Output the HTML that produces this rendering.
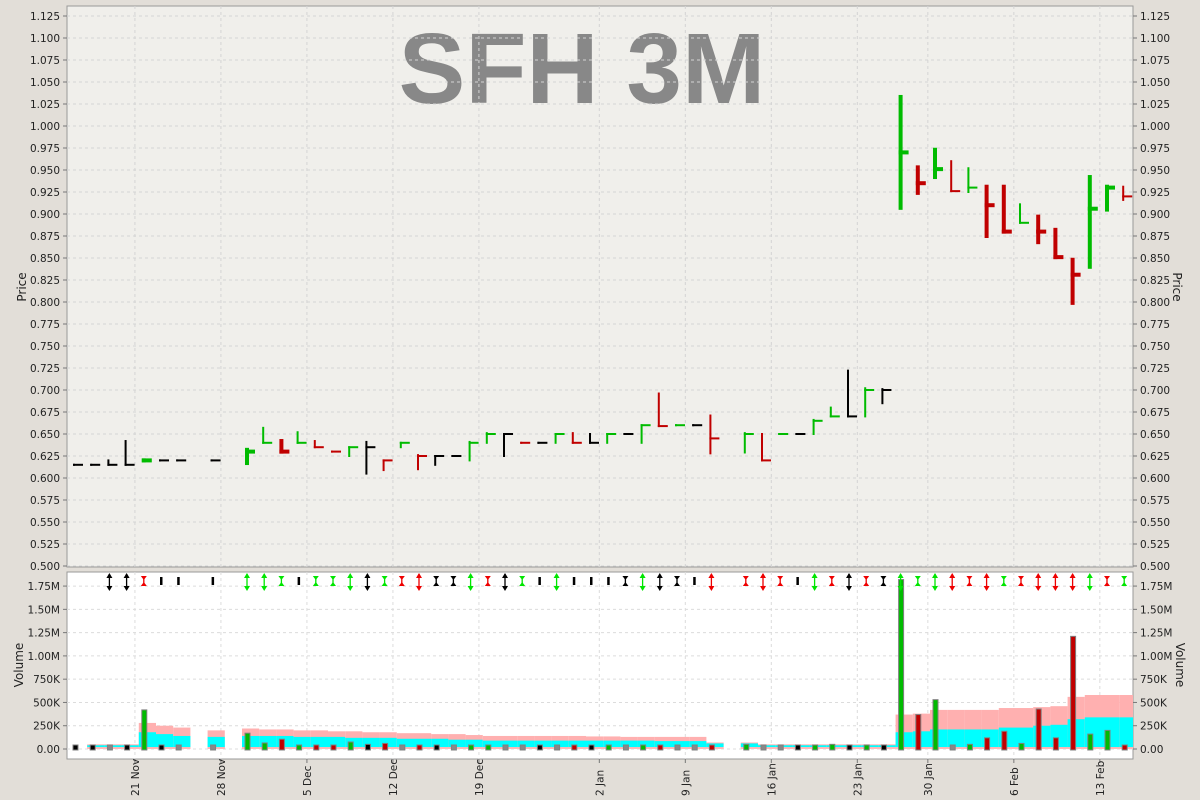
<!DOCTYPE html>
<html><head><meta charset="utf-8"><style>
html,body{margin:0;padding:0;background:#e2ded8;}
svg{display:block;font-family:"DejaVu Sans","Liberation Sans",sans-serif;}
</style></head><body>
<svg id="chart" width="1200" height="800" viewBox="0 0 1200 800">
<defs><clipPath id="volclip"><rect x="67" y="572" width="1066" height="187"/></clipPath></defs>
<rect x="0" y="0" width="1200" height="800" fill="#e2ded8"/>
<rect x="67" y="6" width="1066" height="561" fill="#f0efeb" stroke="#999"/>
<rect x="67" y="572" width="1066" height="187" fill="#ffffff" stroke="#999"/>
<text x="582" y="103" text-anchor="middle" font-family="Liberation Sans, sans-serif" font-weight="bold" font-size="100" fill="#888">SFH 3M</text>
<text transform="translate(26,287) rotate(-90)" text-anchor="middle" font-size="12" fill="#222">Price</text>
<text transform="translate(1173,287) rotate(90)" text-anchor="middle" font-size="12" fill="#222">Price</text>
<text transform="translate(23,665) rotate(-90)" text-anchor="middle" font-size="12" fill="#222">Volume</text>
<text transform="translate(1176,665) rotate(90)" text-anchor="middle" font-size="12" fill="#222">Volume</text>
<g id="grid"></g><g id="vol" clip-path="url(#volclip)"></g><g id="price"></g><g id="arrows"></g><g id="axes"></g>
</svg>
<script>
const slots=[0,1,2,3,4,5,6,8,10,11,12,13,14,15,16,17,18,19,20,21,22,23,24,25,26,27,28,29,30,31,32,33,34,35,36,37,39,40,41,42,43,44,45,46,47,48,49,50,51,52,53,54,55,56,57,58,59,60,61];
const highs=[.615,.615,.620,.642,.620,.620,.620,.620,.632,.657,.642,.652,.642,.630,.635,.641,.620,.640,.626,.625,.625,.641,.651,.650,.640,.640,.650,.651,.650,.650,.650,.660,.696,.660,.660,.671,.651,.650,.650,.650,.666,.680,.722,.702,.701,1.033,.953,.973,.960,.952,.931,.931,.911,.897,.882,.848,.942,.931,.931];
const lows=[.615,.615,.615,.615,.620,.620,.620,.620,.617,.640,.630,.640,.635,.630,.625,.605,.609,.635,.610,.615,.625,.620,.640,.625,.640,.640,.640,.640,.640,.640,.650,.640,.659,.660,.660,.628,.629,.620,.650,.650,.650,.670,.670,.670,.685,.907,.924,.942,.926,.925,.875,.880,.890,.868,.851,.799,.840,.905,.916];
const closes=[.615,.615,.615,.615,.620,.620,.620,.620,.630,.640,.630,.640,.635,.630,.635,.635,.620,.640,.625,.625,.625,.640,.650,.650,.640,.640,.650,.640,.640,.650,.650,.660,.659,.660,.660,.645,.650,.620,.650,.650,.665,.670,.670,.700,.700,.970,.935,.951,.926,.930,.910,.880,.890,.880,.851,.831,.906,.930,.920];
const volumes=[.01,.01,0,.01,.42,.02,0,0,.17,.065,.105,.03,.03,.005,.075,.05,.06,0,.03,.02,0,.04,.03,0,0,.01,0,.03,.01,.02,0,.03,.03,0,0,.04,.05,0,0,.04,.02,.05,.04,.04,.02,1.82,.37,.53,0,.05,.12,.19,.06,.43,.12,1.21,.16,.20,.04];
const avgHigh=[0,.05,.05,.05,.28,.25,.23,.20,.22,.21,.21,.20,.20,.19,.19,.18,.18,.17,.17,.16,.16,.15,.14,.14,.14,.14,.14,.14,.135,.135,.13,.13,.13,.13,.13,.07,.07,.05,.05,.05,.05,.05,.05,.05,.05,.37,.38,.42,.42,.42,.42,.44,.44,.45,.46,.56,.58,.58,.58];
const avgLow=[0,.04,.04,.04,.18,.16,.14,.13,.14,.14,.14,.13,.13,.13,.12,.12,.12,.11,.11,.11,.10,.10,.09,.09,.09,.09,.09,.09,.09,.09,.09,.09,.085,.085,.085,.06,.06,.04,.04,.04,.04,.04,.04,.04,.04,.18,.19,.21,.21,.21,.21,.23,.23,.25,.26,.32,.34,.34,.34];
const signals=['n','n','k-ud','k-ud','r-x','k-i','k-i','k-i','g-ud','g-ud','g-x','k-i','g-x','g-x','g-ud','k-ud','g-x','r-x','r-ud','k-x','k-x','g-ud','r-x','k-ud','g-x','k-i','g-ud','k-i','k-i','k-i','k-x','g-ud','k-ud','k-x','k-i','r-ud','r-x','r-ud','r-x','k-i','g-ud','r-x','k-ud','r-x','k-x','g-ud','g-x','g-ud','r-ud','r-x','r-ud','g-x','r-x','r-ud','r-ud','r-ud','g-ud','r-x','g-x'];
const dateLabels=['21 Nov','28 Nov','5 Dec','12 Dec','19 Dec','2 Jan','9 Jan','16 Jan','23 Jan','30 Jan','6 Feb','13 Feb'];
const dateSlots=[3.6,8.6,13.6,18.6,23.6,30.6,35.6,40.6,45.6,49.7,54.7,59.7];
const priceTicks=[0.5,0.525,0.55,0.575,0.6,0.625,0.65,0.675,0.7,0.725,0.75,0.775,0.8,0.825,0.85,0.875,0.9,0.925,0.95,0.975,1.0,1.025,1.05,1.075,1.1,1.125];
const volTicks=[0,0.25,0.5,0.75,1.0,1.25,1.5,1.75];
const volTickLabels=['0.00','250K','500K','750K','1.00M','1.25M','1.50M','1.75M'];

const NS='http://www.w3.org/2000/svg';
const xS=s=>73+17.2*s;
const yP=p=>566-(p-0.5)*880;
const yV=v=>749-v*93.1;
function mk(tag,attrs,parent){const e=document.createElementNS(NS,tag);for(const k in attrs)e.setAttribute(k,attrs[k]);parent.appendChild(e);return e;}
const G=id=>document.getElementById(id);
const grid=G('grid'),vol=G('vol'),price=G('price'),arrows=G('arrows'),axes=G('axes');

priceTicks.forEach((t,i)=>{
  const y=yP(t);
  const l=mk('line',{x1:67,x2:1133,y1:y,y2:y,stroke:'#d4d4d4','stroke-dasharray':'3,3'},grid);
  
  
  const a=mk('text',{x:60,y:y+4,'text-anchor':'end','font-size':'10.5',fill:'#222'},axes);a.textContent=t.toFixed(3);
  
  
  const b=mk('text',{x:1140,y:y+4,'font-size':'10.5',fill:'#222'},axes);b.textContent=t.toFixed(3);
  
  
  mk('line',{x1:63,x2:67,y1:y,y2:y,stroke:'#777'},axes);mk('line',{x1:1133,x2:1137,y1:y,y2:y,stroke:'#777'},axes);
});
volTicks.forEach((t,i)=>{
  const y=yV(t);
  const l=mk('line',{x1:67,x2:1133,y1:y,y2:y,stroke:'#dcdcdc','stroke-dasharray':'3,3'},grid);
  
  
  const a=mk('text',{x:60,y:y+4,'text-anchor':'end','font-size':'10.5',fill:'#222'},axes);a.textContent=volTickLabels[i];
  
  
  const b=mk('text',{x:1140,y:y+4,'font-size':'10.5',fill:'#222'},axes);b.textContent=volTickLabels[i];
  
  
  mk('line',{x1:63,x2:67,y1:y,y2:y,stroke:'#777'},axes);mk('line',{x1:1133,x2:1137,y1:y,y2:y,stroke:'#777'},axes);
});
dateLabels.forEach((d,i)=>{
  const x=xS(dateSlots[i]);
  const l1=mk('line',{x1:x,x2:x,y1:6,y2:567,stroke:'#d4d4d4','stroke-dasharray':'3,3'},grid);
  
  
  mk('line',{x1:x,x2:x,y1:572,y2:759,stroke:'#dcdcdc','stroke-dasharray':'3,3'},grid);
  mk('line',{x1:x,x2:x,y1:759,y2:763,stroke:'#777'},axes);
  const t=mk('text',{transform:`translate(${x+4},796) rotate(-90)`,'font-size':'10.5',fill:'#222'},axes);t.textContent=d;
  
  
});

const colOf=i=>{if(i===0)return 'k';return closes[i]>closes[i-1]?'g':closes[i]<closes[i-1]?'r':'k';};
const C={g:'#00bb00',r:'#c00000',k:'#000000'};
const AC={g:'#00e600',r:'#ee0000',k:'#000000'};

slots.forEach((s,i)=>{
  const x=xS(s)-3;
  if(avgHigh[i]>0){
    const p=mk('rect',{x:x,y:yV(avgHigh[i]),width:17.2,height:749-yV(avgHigh[i]),fill:'#ffb0b0'},vol);
    
    
    const c=mk('rect',{x:x,y:yV(avgLow[i]),width:17.2,height:yV(0.02)-yV(avgLow[i]),fill:'#00ffff'},vol);
    
    
    mk('rect',{x:x,y:yV(0.02),width:17.2,height:749-yV(0.02),fill:'#ffb8b8'},vol);
  }
});
slots.forEach((s,i)=>{
  const x=xS(s);
  const v=volumes[i];
  const top=Math.min(yV(v),745);
  const col=v===0?'#888':C[colOf(i)];
  const r=mk('rect',{x:x,y:top,width:5,height:749-top+1,fill:col,stroke:'#808080','stroke-width':1},vol);
  
  
});
slots.forEach((s,i)=>{
  const x=xS(s);
  const w=volumes[i]>=0.1?4:2;
  const col=C[colOf(i)];
  const g=mk('g',{},price);
  
  
  const yh=yP(highs[i]),yl=yP(lows[i]),yc=yP(closes[i]);
  mk('rect',{x:x,y:yh-w/2,width:w,height:Math.max(yl-yh+w,w),fill:col},g);
  mk('rect',{x:x,y:yc-w/2,width:10,height:w,fill:col},g);
});
slots.forEach((s,i)=>{
  const sig=signals[i];if(sig==='n')return;
  const [c,t]=sig.split('-');const col=AC[c];const x=xS(s)+2;
  const g=mk('g',{},arrows);
  
  
  if(t==='ud'){
    mk('line',{x1:x,x2:x,y1:574,y2:589,stroke:col,'stroke-width':1.3},g);
    mk('polygon',{points:`${x-3},578 ${x},573 ${x+3},578`,fill:col},g);
    mk('polygon',{points:`${x-3},586 ${x},591 ${x+3},586`,fill:col},g);
  }else if(t==='x'){
    mk('line',{x1:x,x2:x,y1:577,y2:585,stroke:col,'stroke-width':1.3},g);
    mk('polygon',{points:`${x-3},576 ${x+3},576 ${x},580`,fill:col},g);
    mk('polygon',{points:`${x-3},586 ${x+3},586 ${x},582`,fill:col},g);
  }else{
    mk('rect',{x:x-1,y:577,width:2.5,height:8,fill:col},g);
  }
});
</script>
</body></html>
